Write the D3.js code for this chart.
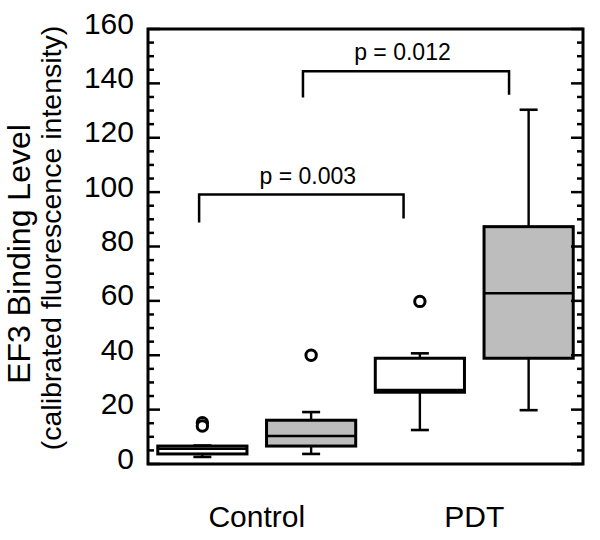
<!DOCTYPE html>
<html>
<head>
<meta charset="utf-8">
<script src="https://cdn.jsdelivr.net/npm/d3@7"></script>
<style>
  html, body { margin: 0; padding: 0; background: #fff; }
  svg { display: block; }
  text { font-family: "Liberation Sans", Arial, Helvetica, sans-serif; fill: #000; }
</style>
</head>
<body>
<svg id="chart" width="600" height="540"></svg>
<script>
// ---- data ----
const boxes = ["Control-A", "Control-B", "PDT-A", "PDT-B"];
const boxFill = ["#ffffff", "#bdbdbd", "#ffffff", "#bdbdbd"];
const whiskerLow = [2.6, 3.7, 12.5, 19.8];
const q1 = [3.7, 6.6, 26.4, 38.9];
const median = [5.6, 10.3, 27.2, 62.8];
const q3 = [6.6, 16.1, 38.9, 87.3];
const whiskerHigh = [6.8, 19.1, 40.7, 130.3];
const outliers = [[15.2, 14.0], [40.0], [59.8], []];

const groupLabels = ["Control", "PDT"];
const groupMembers = [["Control-A", "Control-B"], ["PDT-A", "PDT-B"]];

const yTicksMajor = [0, 20, 40, 60, 80, 100, 120, 140, 160];
const yTicksMinor = d3.range(0, 161, 5);

const pLabels = ["p = 0.003", "p = 0.012"];
const pLabelPos = [0.97, 1.84];       // box index positions
const bracketFrom = [-0.03, 0.925];
const bracketTo = [1.85, 2.82];
const bracketTop = [99.1, 144.5];
const bracketLegLeft = [88.8, 134.8];
const bracketLegRight = [90.3, 135.8];
const yTitle = ["EF3 Binding Level", "(calibrated fluorescence intensity)"];

// ---- layout ----
const svg = d3.select("#chart");
const L = 148, R = 583, T = 29, B = 464;

const x = d3.scaleBand().domain(boxes).range([L, R]).paddingInner(0.18).paddingOuter(0.09);
const xPos = d3.scaleLinear().domain([-0.5, boxes.length - 0.5]).range([L, R]);
const y = d3.scaleLinear().domain([0, 160]).range([B, T]);

const bw = x.bandwidth();
const capW = 18;

// boxes
const g = svg.append("g");
boxes.forEach((b, i) => {
  const cx = x(b) + bw / 2;
  g.append("line").attr("x1", cx).attr("x2", cx).attr("y1", y(q1[i])).attr("y2", y(whiskerLow[i]))
    .attr("stroke", "#000").attr("stroke-width", 2.4);
  g.append("line").attr("x1", cx).attr("x2", cx).attr("y1", y(q3[i])).attr("y2", y(whiskerHigh[i]))
    .attr("stroke", "#000").attr("stroke-width", 2.4);
  g.append("line").attr("x1", cx - capW / 2).attr("x2", cx + capW / 2).attr("y1", y(whiskerLow[i])).attr("y2", y(whiskerLow[i]))
    .attr("stroke", "#000").attr("stroke-width", 2.6);
  g.append("line").attr("x1", cx - capW / 2).attr("x2", cx + capW / 2).attr("y1", y(whiskerHigh[i])).attr("y2", y(whiskerHigh[i]))
    .attr("stroke", "#000").attr("stroke-width", 2.6);
  g.append("rect").attr("x", x(b)).attr("y", y(q3[i])).attr("width", bw).attr("height", y(q1[i]) - y(q3[i]))
    .attr("fill", boxFill[i]).attr("stroke", "#000").attr("stroke-width", 3);
  g.append("line").attr("x1", x(b)).attr("x2", x(b) + bw).attr("y1", y(median[i])).attr("y2", y(median[i]))
    .attr("stroke", "#000").attr("stroke-width", 2.6);
  outliers[i].forEach(v => {
    g.append("circle").attr("cx", cx).attr("cy", y(v)).attr("r", 5.2)
      .attr("fill", "#fff").attr("stroke", "#000").attr("stroke-width", 3);
  });
});

// frame
svg.append("rect").attr("x", L).attr("y", T).attr("width", R - L).attr("height", B - T)
  .attr("fill", "none").attr("stroke", "#000").attr("stroke-width", 3);

// ticks (inward, both sides)
const tg = svg.append("g");
yTicksMinor.forEach(v => {
  const major = v % 20 === 0;
  const len = major ? 12 : 6;
  tg.append("line").attr("x1", L).attr("x2", L + len).attr("y1", y(v)).attr("y2", y(v))
    .attr("stroke", "#000").attr("stroke-width", 2.5);
  tg.append("line").attr("x1", R).attr("x2", R - len).attr("y1", y(v)).attr("y2", y(v))
    .attr("stroke", "#000").attr("stroke-width", 2.5);
});
yTicksMajor.forEach(v => {
  tg.append("text").attr("x", 134).attr("y", y(v) - 6).attr("dy", "0.35em")
    .attr("text-anchor", "end").attr("font-size", 30).text(v);
});

// brackets
pLabels.forEach((lab, i) => {
  const x1 = xPos(bracketFrom[i]), x2 = xPos(bracketTo[i]);
  const path = d3.path();
  path.moveTo(x1, y(bracketLegLeft[i]));
  path.lineTo(x1, y(bracketTop[i]));
  path.lineTo(x2, y(bracketTop[i]));
  path.lineTo(x2, y(bracketLegRight[i]));
  svg.append("path").attr("d", path.toString()).attr("fill", "none")
    .attr("stroke", "#000").attr("stroke-width", 2.5);
  svg.append("text").attr("x", xPos(pLabelPos[i])).attr("y", y(bracketTop[i]) - 11)
    .attr("text-anchor", "middle").attr("font-size", 23).text(lab);
});

// group labels
groupLabels.forEach((lab, i) => {
  const m = groupMembers[i];
  const cx = (x(m[0]) + x(m[1]) + bw) / 2;
  svg.append("text").attr("x", cx).attr("y", 527).attr("text-anchor", "middle")
    .attr("font-size", 30).text(lab);
});

// y title
svg.append("text").attr("transform", `translate(30,254) rotate(-90)`)
  .attr("text-anchor", "middle").attr("font-size", 32).text(yTitle[0]);
svg.append("text").attr("transform", `translate(61,238) rotate(-90)`)
  .attr("text-anchor", "middle").attr("font-size", 28.5).text(yTitle[1]);
</script>
</body>
</html>
